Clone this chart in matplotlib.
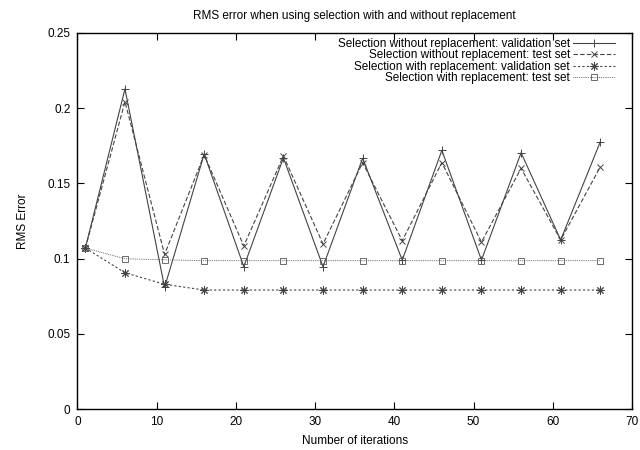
import matplotlib
matplotlib.use("Agg")
import matplotlib.pyplot as plt
from matplotlib.ticker import FuncFormatter, MultipleLocator

plt.rcParams['font.family'] = ['Liberation Sans', 'DejaVu Sans']
plt.rcParams['font.size'] = 8.5

iterations = [1, 6, 11, 16, 21, 26, 31, 36, 41, 46, 51, 56, 61, 66]
wo_valid = [0.107, 0.2128, 0.0809, 0.1695, 0.0946, 0.167, 0.0946, 0.1667, 0.099, 0.172, 0.099, 0.1704, 0.1124, 0.1777]
wo_test = [0.107, 0.2043, 0.1028, 0.169, 0.1084, 0.1682, 0.1097, 0.1638, 0.1119, 0.1638, 0.111, 0.160, 0.1124, 0.161]
w_valid = [0.107, 0.0906, 0.0829, 0.0791, 0.0791, 0.0791, 0.0791, 0.0791, 0.0791, 0.0791, 0.0791, 0.0791, 0.0791, 0.0791]
w_test = [0.107, 0.0999, 0.0992, 0.0986, 0.0986, 0.0986, 0.0986, 0.0986, 0.0986, 0.0986, 0.0986, 0.0986, 0.0986, 0.0986]

labels = ["Selection without replacement: validation set",
          "Selection without replacement: test set",
          "Selection with replacement: validation set",
          "Selection with replacement: test set"]
title = "RMS error when using selection with and without replacement"
xlabel = "Number of iterations"
ylabel = "RMS Error"

fig = plt.figure(figsize=(6.4, 4.5), dpi=100)
ax = fig.add_axes([0.121, 0.0911, 0.9875 - 0.121, 0.9267 - 0.0911])

lc = '#444444'
ax.plot(iterations, wo_valid, color=lc, lw=0.8, ls='-', marker='+', ms=6, mew=0.7, label=labels[0])
ax.plot(iterations, wo_test, color=lc, lw=0.8, ls=(0, (4, 2)), marker='x', ms=5, mew=0.7, label=labels[1])
ax.plot(iterations, w_valid, color=lc, lw=0.8, ls=(0, (2, 2)), marker=(8, 2, 0), ms=6, mew=0.7, label=labels[2])
ax.plot(iterations, w_test, color=lc, lw=0.6, ls=(0, (1, 1.2)), marker='s', ms=5, mew=0.6,
        mfc='none', mec='#555555', label=labels[3])

ax.set_xlim(0, 70)
ax.set_ylim(0, 0.25)
ax.xaxis.set_major_locator(MultipleLocator(10))
ax.yaxis.set_major_locator(MultipleLocator(0.05))
ax.yaxis.set_major_formatter(FuncFormatter(lambda v, p: '%g' % round(v, 4)))
ax.tick_params(direction='in', length=5, width=0.8, top=True, right=True, labelsize=8.5, pad=5)
for s in ax.spines.values():
    s.set_linewidth(1.0)

ax.set_title(title, fontsize=8.5, pad=10)
ax.set_xlabel(xlabel, fontsize=8.5, labelpad=5)
ax.set_ylabel(ylabel, fontsize=8.5, labelpad=13)

leg = ax.legend(loc='upper right', frameon=False, markerfirst=False, handlelength=3.55,
                labelspacing=-0.05, borderaxespad=0, borderpad=0, handletextpad=0.25, fontsize=8.5,
                bbox_to_anchor=(0.9693, 0.987))

fig.savefig('out.png', dpi=100)
